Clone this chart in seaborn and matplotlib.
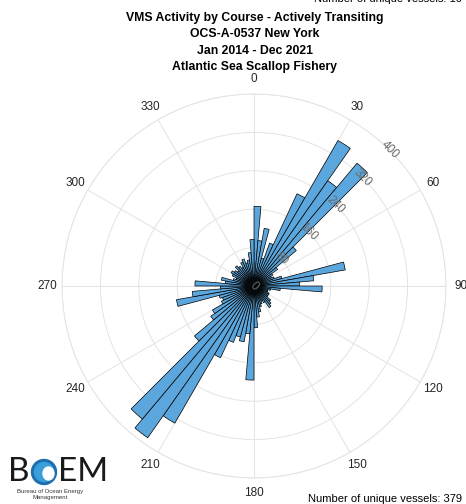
import numpy as np
import matplotlib
matplotlib.use("Agg")
import matplotlib.pyplot as plt
from matplotlib.patches import Circle, Ellipse
import seaborn as sns

# Course histogram: counts per 5-degree course bin, starting at 0 deg (N), clockwise
bin_start_deg = list(range(0, 360, 5))
counts = [
    166, 95, 122, 60, 95, 212, 350, 268, 334, 115, 60, 45,   # 0-55
    40, 45, 60, 193, 125, 95, 142, 55, 35, 30, 30, 35,       # 60-115
    35, 35, 45, 50, 55, 40, 35, 40, 45, 55, 65, 87,          # 120-175
    196, 100, 118, 110, 125, 165, 330, 386, 362, 162, 110, 100,  # 180-235
    75, 70, 75, 164, 129, 70, 123, 60, 69, 45, 40, 50,       # 240-295
    55, 50, 45, 55, 50, 45, 55, 60, 50, 55, 70, 97,          # 300-355
]
bin_width_deg = 5
r_ticks = [0, 80, 160, 240, 320, 400]
r_label_angle_deg = 45
theta_ticks = list(range(0, 360, 30))

title_lines = [
    "VMS Activity by Course - Actively Transiting",
    "OCS-A-0537 New York",
    "Jan 2014 - Dec 2021",
    "Atlantic Sea Scallop Fishery",
]
vessels_prev = "Number of unique vessels: 10"
vessels_text = "Number of unique vessels: 379"

sns.set_style("white")
plt.rcParams["font.family"] = ["Liberation Sans", "DejaVu Sans"]

W, H = 466, 504
fig = plt.figure(figsize=(W / 100, H / 100), dpi=100)

cx, cy, R = 254, 286, 192
ax = fig.add_axes([(cx - R) / W, (H - cy - R) / H, 2 * R / W, 2 * R / H],
                  projection="polar")
ax.set_theta_zero_location("N")
ax.set_theta_direction(-1)

bar_color = "#5BA7DD"
theta = np.deg2rad(bin_start_deg)
ax.bar(theta, counts, width=np.deg2rad(bin_width_deg), align="edge",
       color=bar_color, edgecolor="black", linewidth=0.5, zorder=3)

ax.set_ylim(0, r_ticks[-1])
ax.set_rticks(r_ticks)
ax.set_yticklabels([])
ax.set_thetagrids(theta_ticks, [str(t) for t in theta_ticks])
ax.tick_params(axis="x", pad=0, labelsize=8.5, labelcolor="#262626")
ax.grid(True, color="#e3e3e3", linewidth=0.7)
ax.set_axisbelow(True)
ax.spines["polar"].set_color("#e3e3e3")
ax.spines["polar"].set_linewidth(0.7)

# Radial tick labels along the 45-degree spoke, tangent to the rings
for r in r_ticks:
    ax.text(np.deg2rad(r_label_angle_deg), r, str(r), rotation=-45,
            rotation_mode="anchor", ha="center", va="center",
            fontsize=8.5, color="#6a6a6a", zorder=5)

# Title block
y0 = 18
for i, line in enumerate(title_lines):
    fig.text(0.547, 1 - (y0 + 16.3 * i) / H, line, ha="center", va="center",
             fontsize=8.8, fontweight="bold", color="black")

fig.text(462 / W, 1 - (-1) / H, vessels_prev, ha="right", va="center",
         fontsize=8, color="black")
fig.text(462 / W, 1 - 499 / H, vessels_text, ha="right", va="center",
         fontsize=8, color="black")

# Agency logo, drawn in pixel units
lax = fig.add_axes([0, 0, 110 / W, 60 / H])
lax.set_xlim(0, 110)
lax.set_ylim(0, 60)
lax.set_aspect("equal")
lax.axis("off")
lax.text(8, 32, "B", fontsize=24, fontweight="normal", color="#1a1a1a",
         ha="left", va="center", family=["Lato", "DejaVu Sans"])
lax.add_patch(Circle((44, 32), 12.5, color="#1d6fae"))
lax.add_patch(Circle((44, 32), 9.5, color="#3a9fd8"))
lax.add_patch(Ellipse((48.5, 30.5), 11, 13, color="white"))
lax.text(58, 32, "EM", fontsize=24, fontweight="normal", color="#1a1a1a",
         ha="left", va="center", family=["Lato", "DejaVu Sans"])
lax.text(50, 13, "Bureau of Ocean Energy", fontsize=4.3, color="#333333",
         ha="center", va="center")
lax.text(50, 7, "Management", fontsize=4.3, color="#333333",
         ha="center", va="center")

fig.savefig("out.png", dpi=100)
